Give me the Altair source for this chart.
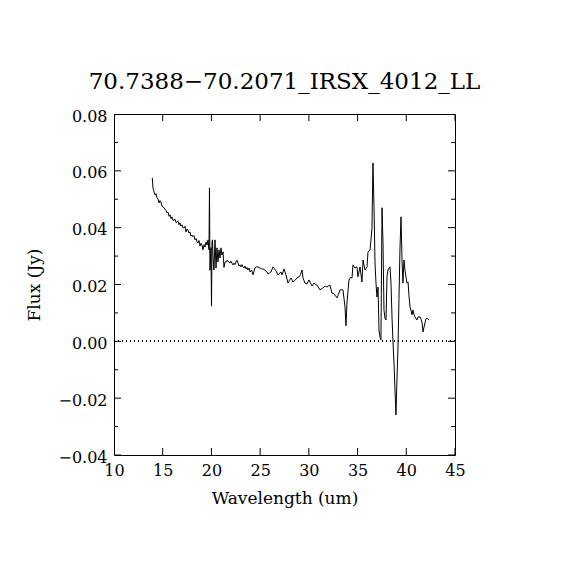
import altair as alt
import pandas as pd

TITLE = "70.7388\u221270.2071_IRSX_4012_LL"
X_TITLE = "Wavelength (um)"
Y_TITLE = "Flux (Jy)"

wavelength = [
    13.93, 14.00, 14.05, 14.10, 14.21, 14.30, 14.40, 14.52, 14.62, 14.72,
    14.82, 14.93, 15.03, 15.13, 15.24, 15.34, 15.44, 15.54, 15.65, 15.75,
    15.85, 15.95, 16.06, 16.16, 16.26, 16.37, 16.47, 16.57, 16.67, 16.77,
    16.88, 16.98, 17.08, 17.18, 17.29, 17.39, 17.49, 17.60, 17.70, 17.80,
    17.90, 18.01, 18.11, 18.21, 18.31, 18.42, 18.52, 18.62, 18.72, 18.83,
    18.93, 19.03, 19.13, 19.24, 19.34, 19.45, 19.55, 19.65, 19.75, 19.80,
    19.85, 19.95, 20.01, 20.06, 20.11, 20.16, 20.26, 20.37, 20.47, 20.57,
    20.67, 20.78, 20.88, 20.98, 21.08, 21.19, 21.29, 21.40, 21.50, 21.60,
    21.70, 21.81, 21.91, 22.01, 22.11, 22.21, 22.32, 22.42, 22.52, 22.62,
    22.73, 22.83, 22.93, 23.04, 23.14, 23.24, 23.34, 23.45, 23.55, 23.65,
    23.75, 23.86, 23.96, 24.13, 24.27, 24.47, 24.62, 24.78, 24.99, 25.14,
    25.29, 25.50, 25.70, 25.81, 25.96, 26.11, 26.32, 26.47, 26.63, 26.83,
    26.99, 27.14, 27.24, 27.45, 27.65, 27.86, 28.01, 28.17, 28.37, 28.58,
    28.78, 28.99, 29.14, 29.30, 29.40, 29.60, 29.81, 30.01, 30.17, 30.32,
    30.53, 30.68, 30.84, 31.14, 31.30, 31.45, 31.66, 31.86, 32.02, 32.17,
    32.37, 32.53, 32.68, 32.89, 33.04, 33.20, 33.35, 33.50, 33.71, 33.81,
    33.91, 34.12, 34.27, 34.43, 34.53, 34.74, 34.94, 35.04, 35.25, 35.45,
    35.56, 35.76, 35.97, 36.07, 36.28, 36.48, 36.58, 36.69, 36.79, 36.89,
    36.99, 37.10, 37.20, 37.30, 37.40, 37.51, 37.61, 37.71, 37.82, 37.92,
    38.02, 38.12, 38.23, 38.33, 38.43, 38.54, 38.64, 38.74, 38.84, 38.94,
    39.05, 39.15, 39.25, 39.35, 39.46, 39.56, 39.66, 39.76, 39.87, 39.97,
    40.07, 40.18, 40.28, 40.38, 40.48, 40.59, 40.69, 40.79, 40.89, 41.00,
    41.10, 41.20, 41.30, 41.41, 41.51, 41.61, 41.72, 41.82, 41.92, 42.02,
    42.13, 42.23, 42.33,
]

flux = [
    0.0575, 0.0540, 0.0533, 0.0526, 0.0515, 0.0520, 0.0505, 0.0501, 0.0487, 0.0495,
    0.0490, 0.0476, 0.0472, 0.0470, 0.0465, 0.0460, 0.0452, 0.0455, 0.0440, 0.0445,
    0.0432, 0.0438, 0.0425, 0.0427, 0.0430, 0.0418, 0.0420, 0.0424, 0.0410, 0.0417,
    0.0405, 0.0410, 0.0400, 0.0399, 0.0405, 0.0385, 0.0395, 0.0392, 0.0381, 0.0385,
    0.0370, 0.0374, 0.0368, 0.0372, 0.0357, 0.0362, 0.0350, 0.0346, 0.0355, 0.0336,
    0.0345, 0.0339, 0.0322, 0.0340, 0.0332, 0.0350, 0.0339, 0.0357, 0.0322, 0.0540,
    0.0250, 0.0330, 0.0124, 0.0350, 0.0357, 0.0300, 0.0251, 0.0357, 0.0258, 0.0329,
    0.0279, 0.0322, 0.0293, 0.0329, 0.0304, 0.0315, 0.0260, 0.0280, 0.0279, 0.0285,
    0.0283, 0.0278, 0.0276, 0.0282, 0.0275, 0.0269, 0.0275, 0.0270, 0.0279, 0.0285,
    0.0276, 0.0265, 0.0269, 0.0262, 0.0270, 0.0262, 0.0258, 0.0265, 0.0255, 0.0260,
    0.0251, 0.0258, 0.0244, 0.0251, 0.0234, 0.0258, 0.0262, 0.0262, 0.0258, 0.0255,
    0.0255, 0.0250, 0.0244, 0.0237, 0.0240, 0.0244, 0.0262, 0.0255, 0.0248, 0.0234,
    0.0240, 0.0244, 0.0234, 0.0255, 0.0234, 0.0205, 0.0215, 0.0223, 0.0209, 0.0215,
    0.0223, 0.0227, 0.0235, 0.0251, 0.0223, 0.0205, 0.0202, 0.0216, 0.0205, 0.0195,
    0.0205, 0.0200, 0.0198, 0.0181, 0.0185, 0.0188, 0.0195, 0.0191, 0.0195, 0.0198,
    0.0170, 0.0168, 0.0163, 0.0153, 0.0165, 0.0181, 0.0182, 0.0181, 0.0121, 0.0055,
    0.0135, 0.0216, 0.0225, 0.0223, 0.0269, 0.0258, 0.0262, 0.0227, 0.0262, 0.0209,
    0.0286, 0.0251, 0.0262, 0.0315, 0.0322, 0.0398, 0.0628, 0.0470, 0.0276, 0.0205,
    0.0156, 0.0191, 0.0040, 0.0015, 0.0005, 0.0470, 0.0346, 0.0110, 0.0080, 0.0075,
    0.0227, 0.0251, 0.0258, 0.0262, 0.0205, 0.0080, -0.0006, -0.0076, -0.0171, -0.0259,
    -0.0125, -0.0020, 0.0150, 0.0322, 0.0438, 0.0286, 0.0205, 0.0286, 0.0250, 0.0227,
    0.0205, 0.0209, 0.0160, 0.0121, 0.0110, 0.0093, 0.0110, 0.0095, 0.0086, 0.0080,
    0.0075, 0.0086, 0.0085, 0.0086, 0.0078, 0.0068, 0.0033, 0.0050, 0.0065, 0.0078,
    0.0082, 0.0078, 0.0075,
]

x_domain = [10, 45]
y_domain = [-0.04, 0.08]
x_ticks = [10, 15, 20, 25, 30, 35, 40, 45]
y_major = [-0.04, -0.02, 0.0, 0.02, 0.04, 0.06, 0.08]
y_minor = [-0.03, -0.01, 0.01, 0.03, 0.05, 0.07]

FONT = "DejaVu Serif"

spec = pd.DataFrame({"wl": wavelength, "flux": flux})

xs = alt.Scale(domain=x_domain, nice=False, zero=False)
ys = alt.Scale(domain=y_domain, nice=False, zero=False)

x_axis = alt.Axis(
    values=x_ticks, ticks=False, domain=False, grid=False,
    labelFont=FONT, labelFontSize=16, labelColor="black",
    labelBaseline="alphabetic", labelPadding=20, labelFlush=False,
    labelOverlap=False, labelBound=False,
    title=X_TITLE, titleFont=FONT, titleFontSize=17, titleFontWeight="normal",
    titleColor="black", titleBaseline="alphabetic", titleY=48,
)
y_axis = alt.Axis(
    values=y_major, format=".2f", ticks=False, domain=False, grid=False,
    labelFont=FONT, labelFontSize=16, labelColor="black",
    labelBaseline="alphabetic", labelOffset=7, labelPadding=7,
    labelFlush=False, labelOverlap=False, labelBound=False,
    title=Y_TITLE, titleFont=FONT, titleFontSize=17, titleFontWeight="normal",
    titleColor="black", titleBaseline="alphabetic", titleX=-75,
)

line = alt.Chart(spec).mark_line(color="black", strokeWidth=1, clip=True).encode(
    x=alt.X("wl:Q", scale=xs, axis=x_axis),
    y=alt.Y("flux:Q", scale=ys, axis=y_axis),
)

zero = alt.Chart(spec).mark_rule(color="black", strokeWidth=1, strokeDash=[1, 3]).encode(
    y=alt.datum(0, scale=ys)
)

def xtick_layer(yval):
    df = pd.DataFrame({"x": x_ticks, "y": [yval] * len(x_ticks)})
    return alt.Chart(df).mark_tick(
        orient="vertical", size=14, thickness=1, color="black", opacity=1, clip=True
    ).encode(x=alt.X("x:Q", scale=xs), y=alt.Y("y:Q", scale=ys))

def ytick_layer(vals, xval, size):
    df = pd.DataFrame({"x": [xval] * len(vals), "y": vals})
    return alt.Chart(df).mark_tick(
        orient="horizontal", size=size, thickness=1, color="black", opacity=1, clip=True
    ).encode(x=alt.X("x:Q", scale=xs), y=alt.Y("y:Q", scale=ys))

chart = alt.layer(
    zero,
    xtick_layer(y_domain[0]),
    xtick_layer(y_domain[1]),
    ytick_layer(y_major, x_domain[0], 14),
    ytick_layer(y_major, x_domain[1], 14),
    ytick_layer(y_minor, x_domain[0], 8),
    ytick_layer(y_minor, x_domain[1], 8),
    line,
).properties(
    width=341,
    height=341,
    title=alt.TitleParams(
        TITLE, font=FONT, fontSize=23, fontWeight="normal", color="black",
        anchor="middle", frame="group", baseline="alphabetic", offset=-4,
    ),
    autosize=alt.AutoSizeParams(type="none"),
    padding={"left": 106, "top": 106, "right": 60, "bottom": 70},
    background="white",
).configure_view(
    stroke="black", strokeWidth=1
)

chart.save("out.html", embed_options={"renderer": "svg", "actions": False})
